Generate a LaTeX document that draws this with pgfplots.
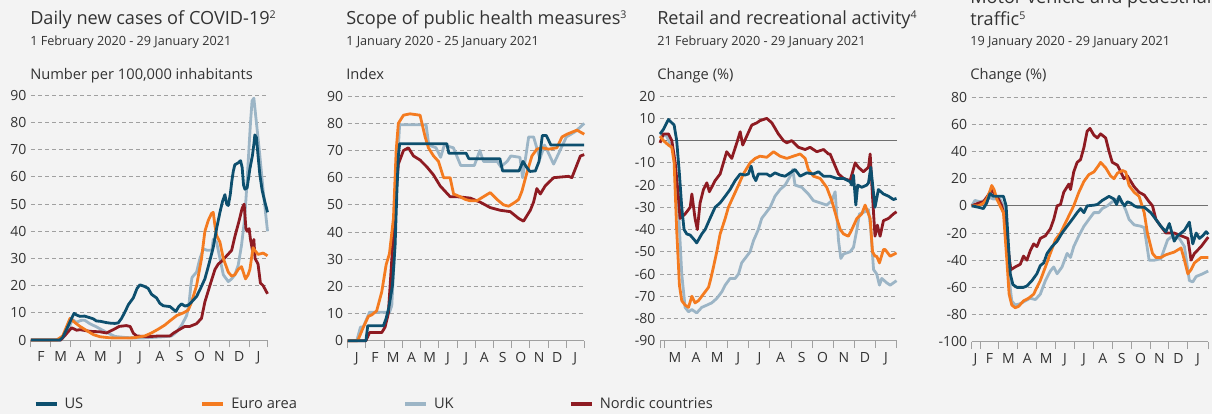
\documentclass[border=0pt]{standalone}
\usepackage{pgfplots}
\pgfplotsset{compat=1.18}
\usepackage{fontspec}
\setmainfont{Open Sans}
\definecolor{bg}{HTML}{F3F3F3}
\definecolor{us}{HTML}{0D4F6E}
\definecolor{ea}{HTML}{F47B20}
\definecolor{uk}{HTML}{9CB5C6}
\definecolor{nd}{HTML}{8E1B22}
\definecolor{gridc}{HTML}{A0A0A0}
\definecolor{axc}{HTML}{A0A0A0}
\definecolor{zeroc}{HTML}{707070}
\definecolor{txt}{HTML}{333333}
\newcommand{\titlefont}{\fontsize{13.6}{16}\selectfont}
\newcommand{\subfont}{\fontsize{9.5}{11}\selectfont}
\newcommand{\labfont}{\fontsize{11}{13}\selectfont}
\newcommand{\tickfont}{\fontsize{10.5}{12}\selectfont}
\newcommand{\sups}[1]{\raisebox{0.62ex}{\fontsize{8}{8}\selectfont #1}}
\pgfplotsset{
  panel/.style={
    scale only axis,
    width=177.4pt, height=183.4pt,
    axis x line*=bottom, axis y line*=left,
    y axis line style={draw=none},
    x axis line style={draw=axc, line width=0.75pt},
    ymajorgrids,
    major grid style={draw=gridc, line width=0.75pt, dash pattern=on 3pt off 2.25pt},
    ytick style={draw=none},
    major tick length=0pt,
    minor tick length=5.5pt,
    tick align=outside,
    minor tick style={draw=axc, line width=0.75pt},
    xticklabel style={font=\tickfont, text=txt, anchor=base, inner sep=0pt, yshift=-16.3pt},
    yticklabel style={font=\tickfont, text=txt, anchor=east, inner sep=0pt, xshift=-3.3pt},
    /pgf/number format/assume math mode=true,
    clip=false,
    every axis plot/.append style={line width=2.1pt, line join=round, mark=none},
  }
}
\begin{document}
\begin{tikzpicture}[x=0.75pt, y=0.75pt]
\fill[bg] (0,0) rectangle (1212,414);
\useasboundingbox (0,0) rectangle (1212,414);

% ---------- titles ----------
\node[anchor=base west, inner sep=0, font=\titlefont, text=txt] at (30,389) {Daily new cases of COVID-19\sups{2}};
\node[anchor=base west, inner sep=0, font=\subfont, text=txt] at (30,368) {1 February 2020 - 29 January 2021};
\node[anchor=base west, inner sep=0, font=\labfont, text=txt] at (30,334.5) {Number per 100,000 inhabitants};

\node[anchor=base west, inner sep=0, font=\titlefont, text=txt] at (346,389) {Scope of public health measures\sups{3}};
\node[anchor=base west, inner sep=0, font=\subfont, text=txt] at (346,368) {1 January 2020 - 25 January 2021};
\node[anchor=base west, inner sep=0, font=\labfont, text=txt] at (346,334.5) {Index};

\node[anchor=base west, inner sep=0, font=\titlefont, text=txt] at (657,389) {Retail and recreational activity\sups{4}};
\node[anchor=base west, inner sep=0, font=\subfont, text=txt] at (657,368) {21 February 2020 - 29 January 2021};
\node[anchor=base west, inner sep=0, font=\labfont, text=txt] at (657,334.5) {Change (\%)};

\node[anchor=base west, inner sep=0, font=\titlefont, text=txt] at (970,410.5) {Motor vehicle and pedestrian};
\node[anchor=base west, inner sep=0, font=\titlefont, text=txt] at (970,388) {traffic\sups{5}};
\node[anchor=base west, inner sep=0, font=\subfont, text=txt] at (970,368) {19 January 2020 - 29 January 2021};
\node[anchor=base west, inner sep=0, font=\labfont, text=txt] at (970,334.5) {Change (\%)};

% ---------- Panel 1 ----------
\begin{axis}[panel, at={(23.25pt,55.5pt)}, anchor=south west,
  xmin=1, xmax=12.93, ymin=0, ymax=90, ytick={0,10,...,90},
  xtick={1.5,2.5,3.5,4.5,5.5,6.5,7.5,8.5,9.5,10.5,11.5,12.47},
  xticklabels={F,M,A,M,J,J,A,S,O,N,D,J},
  minor xtick={1,2,3,4,5,6,7,8,9,10,11,12,12.93},
  legend columns=4,
  legend style={at={(0.012,-0.262)}, anchor=west, draw=none, fill=none,
    inner sep=0pt, outer sep=0pt, font=\labfont, text=txt,
    nodes={inner sep=0pt},
    /tikz/every odd column/.append style={column sep=4.5pt},
    /tikz/every even column/.append style={column sep=0pt}},
  legend image code/.code={\draw[#1, line width=2.8pt] (0pt,0pt) -- (15.75pt,0pt);},
]
\addplot[uk, forget plot] coordinates {(1,0) (2.5,0) (2.75,2) (3.0,6) (3.1,7.5) (3.3,6.5) (3.5,7.2) (3.7,7.3) (3.97,6) (4.31,4.8) (4.64,3.5) (4.98,2.2) (5.23,1.3) (5.8,0.9) (6.49,0.7) (7.0,0.9) (7.67,1.2) (8.09,1.5) (8.35,3) (8.6,5.5) (8.85,9) (8.98,14) (9.06,20) (9.12,23) (9.35,25) (9.52,30) (9.69,33.5) (9.9,33) (10.12,33) (10.19,37) (10.36,36) (10.53,30) (10.7,24) (10.95,21.5) (11.12,22.5) (11.28,24) (11.45,27.5) (11.62,35) (11.78,45) (11.87,55) (11.95,65) (12.07,80) (12.15,88) (12.24,89) (12.37,80) (12.54,68) (12.71,55) (12.93,40)};
\addplot[nd, forget plot] coordinates {(1,0) (2.5,0) (2.75,2) (3.05,4.5) (3.3,3.6) (3.47,3.8) (3.97,3.2) (4.48,3) (4.81,2.6) (5.15,3.8) (5.45,5) (5.8,5.3) (6.0,5) (6.16,2.5) (6.33,1.5) (6.84,1.2) (7.5,1.5) (8.01,1.5) (8.18,2.5) (8.52,4) (8.76,5) (9.01,5) (9.35,6) (9.6,8) (9.77,14) (10.02,20) (10.28,26) (10.45,28) (10.62,29) (10.87,31) (11.12,33) (11.28,38) (11.5,44) (11.65,48.5) (11.75,50) (11.84,41) (11.9,40) (12.0,41) (12.07,37) (12.17,33) (12.24,37) (12.3,30) (12.45,28) (12.57,21) (12.71,20) (12.93,17)};
\addplot[ea, forget plot] coordinates {(1,0) (2.3,0) (2.6,1.5) (2.8,5) (2.97,8) (3.2,6.5) (3.47,5) (3.8,3.5) (4.14,2) (4.48,1.2) (4.98,0.8) (5.57,0.7) (6.2,0.8) (6.74,1.5) (7.08,2.6) (7.42,4) (7.75,5.5) (8.0,7) (8.35,9) (8.69,10) (8.93,11) (9.1,14) (9.35,20) (9.6,30) (9.77,40) (9.94,44) (10.1,46.5) (10.19,47) (10.28,42) (10.36,38.5) (10.53,36) (10.7,30) (10.95,25) (11.12,23.5) (11.28,24) (11.45,26) (11.62,27) (11.75,24) (11.82,22.5) (11.95,24) (12.04,26) (12.12,30) (12.2,34) (12.29,33) (12.45,31.5) (12.71,32) (12.93,31)};
\addplot[us, forget plot] coordinates {(1,0) (2.46,0) (2.6,1) (2.8,4) (3.05,8) (3.17,9.8) (3.3,9.2) (3.47,8.7) (3.7,8.8) (3.97,8.2) (4.14,7.8) (4.3,7) (4.48,6.9) (4.81,6.4) (5.0,6.2) (5.23,6.1) (5.4,6.3) (5.57,8) (5.75,10.5) (5.91,13) (6.16,15.5) (6.35,19) (6.49,20.3) (6.7,19.8) (6.91,19) (7.08,16.8) (7.33,15.5) (7.5,13.5) (7.67,12.6) (8.01,12.3) (8.09,11.8) (8.31,10.5) (8.45,12.3) (8.59,13.3) (8.76,12.5) (8.93,12.8) (9.1,14) (9.35,16) (9.52,18.5) (9.77,22.5) (9.94,27) (10.19,34) (10.36,41) (10.53,47) (10.66,51) (10.78,53.5) (10.87,50) (10.95,49.5) (11.05,53.5) (11.12,58) (11.2,62) (11.28,64.5) (11.45,65.2) (11.57,66) (11.65,63.5) (11.72,57) (11.79,55.5) (11.9,56) (12.04,63) (12.17,68) (12.24,72) (12.29,75.5) (12.37,74.5) (12.45,68) (12.54,61) (12.66,55) (12.79,51) (12.93,47)};
\addlegendimage{us}\addlegendentry{\makebox[102pt][l]{US}}
\addlegendimage{ea}\addlegendentry{\makebox[129pt][l]{Euro area}}
\addlegendimage{uk}\addlegendentry{\makebox[101.25pt][l]{UK}}
\addlegendimage{nd}\addlegendentry{Nordic countries}
\end{axis}

% ---------- Panel 2 ----------
\begin{axis}[panel, at={(260.775pt,54.975pt)}, anchor=south west,
  xmin=0, xmax=12.98, ymin=0, ymax=90, ytick={0,10,...,90},
  xtick={0.5,1.5,2.5,3.5,4.5,5.5,6.5,7.5,8.5,9.5,10.5,11.5,12.49},
  xticklabels={J,F,M,A,M,J,J,A,S,O,N,D,J},
  minor xtick={0,1,2,3,4,5,6,7,8,9,10,11,12,12.98},
]
\addplot[uk] coordinates {(0,0) (0.5,0) (0.7,5) (0.85,5) (1.2,10.5) (2.3,10.5) (2.42,13) (2.55,30) (2.68,60) (2.85,79.5) (4.3,79.5) (4.45,72) (4.85,71) (5.1,67.5) (5.3,72) (5.8,71) (6.2,64.5) (6.95,64.5) (7.25,70) (7.45,66) (8.2,66) (8.4,64) (8.75,66) (8.95,68) (9.45,67.5) (9.6,60) (9.93,75) (10.2,75) (10.55,67) (10.8,72) (10.95,70) (11.3,65) (11.65,70) (12.0,75) (12.5,77) (12.98,80)};
\addplot[nd] coordinates {(0,0) (1.0,0) (1.2,3) (1.87,3) (2.05,5) (2.23,10) (2.42,30) (2.6,50) (2.78,65) (3.06,70) (3.33,71) (3.61,68) (3.97,66.5) (4.34,64) (4.71,61) (5.07,57) (5.62,53) (5.99,53) (6.72,52.5) (7.27,51) (7.82,49) (8.37,48) (8.92,47.5) (9.38,45) (9.65,44) (10.02,48) (10.2,51) (10.38,56) (10.57,54) (10.84,57) (11.3,60) (12.12,60.5) (12.3,60) (12.77,68) (12.98,68.5)};
\addplot[ea] coordinates {(0,0) (0.55,0) (0.86,5) (1.14,9) (1.32,9.5) (1.59,11) (1.87,18) (2.11,28) (2.29,32) (2.51,45) (2.66,70) (2.78,80) (3.06,83) (3.42,83.5) (3.97,83) (4.25,75) (4.43,71) (4.71,68) (4.98,66) (5.26,60) (5.62,60) (5.81,54) (6.17,53) (6.45,52) (6.72,51.5) (7.09,51.5) (7.45,53) (7.82,54.5) (8.19,52) (8.55,50) (8.83,49.5) (9.19,51) (9.38,52) (9.56,55) (9.84,62) (10.11,68) (10.38,70.5) (10.66,71) (11.03,70.5) (11.48,71) (11.76,75) (12.03,76) (12.58,77.5) (12.98,76)};
\addplot[us] coordinates {(0,0) (1.0,0) (1.1,5.5) (1.96,5.5) (2.1,8) (2.25,12) (2.45,20) (2.6,35) (2.7,55) (2.78,68) (2.85,72.5) (5.44,72.5) (5.55,69) (6.5,69) (6.65,67) (8.35,67) (8.5,62.5) (9.4,62.5) (9.62,66) (9.8,64) (10.0,62.3) (10.3,62.5) (10.5,66) (10.68,75.5) (10.9,75.5) (11.15,72) (12.98,72)};
\end{axis}

% ---------- Panel 3 ----------
\begin{axis}[panel, at={(495pt,54.975pt)}, anchor=south west,
  xmin=1.79, xmax=13, ymin=-90, ymax=20, ytick={-90,-80,...,20},
  xtick={2.5,3.5,4.5,5.5,6.5,7.5,8.5,9.5,10.5,11.5,12.5},
  xticklabels={M,A,M,J,J,A,S,O,N,D,J},
  minor xtick={1.79,2,3,4,5,6,7,8,9,10,11,12,13},
]
\addplot[zeroc, line width=0.9pt] coordinates {(1.79,0) (13,0)};
\addplot[uk] coordinates {(1.79,3) (2.11,2) (2.43,-5) (2.66,-30) (2.82,-60) (2.98,-75) (3.14,-77) (3.30,-76) (3.53,-77.5) (3.77,-75) (4.01,-74) (4.24,-73) (4.48,-71) (4.72,-68) (4.88,-65) (5.11,-62) (5.35,-62) (5.51,-60) (5.66,-55) (5.90,-52) (6.06,-50) (6.22,-45) (6.45,-40) (6.61,-35) (6.85,-32) (7.01,-30) (7.24,-25) (7.48,-22) (7.72,-20) (7.96,-16) (8.08,-13) (8.19,-20) (8.51,-21) (8.82,-24) (9.06,-27) (9.38,-28) (9.69,-29) (9.93,-27) (10.09,-23) (10.25,-45) (10.36,-53) (10.49,-51) (10.80,-50) (10.96,-48) (11.12,-40) (11.24,-33) (11.51,-32) (11.67,-31) (11.78,-40) (11.91,-58) (12.06,-60) (12.19,-65) (12.30,-62) (12.54,-64) (12.70,-65) (13.0,-63)};
\addplot[nd] coordinates {(1.79,-1) (1.95,3) (2.19,3) (2.35,0) (2.51,-10) (2.66,-25) (2.74,-35) (2.98,-33) (3.22,-30) (3.30,-24) (3.45,-35) (3.56,-40) (3.69,-28) (3.85,-22) (4.01,-19) (4.13,-23) (4.40,-18) (4.64,-15) (4.95,-5) (5.19,-8) (5.43,-1) (5.59,4) (5.71,-2) (5.90,2) (6.14,7) (6.38,8) (6.53,9) (6.85,10) (7.09,8) (7.40,3) (7.64,0) (7.80,-1) (8.03,0) (8.35,-3) (8.67,-4) (8.90,-3) (9.22,-5) (9.54,-4) (9.77,-6) (9.85,-6) (10.25,-15) (10.49,-17) (10.80,-18) (11.04,-10) (11.19,-12) (11.43,-14) (11.67,-12) (11.75,-6) (11.86,-25) (11.98,-43) (12.09,-38) (12.22,-43) (12.38,-36) (12.62,-35) (12.85,-33) (13.0,-32)};
\addplot[ea] coordinates {(1.79,2) (1.95,0) (2.19,-2) (2.35,-3) (2.46,-10) (2.58,-40) (2.71,-65) (2.82,-72) (2.98,-74) (3.14,-75) (3.30,-70) (3.45,-73) (3.61,-72) (3.77,-70) (3.93,-68) (4.09,-66) (4.20,-62) (4.32,-57) (4.48,-50) (4.64,-42) (4.88,-35) (5.03,-30) (5.27,-25) (5.51,-20) (5.74,-15) (6.06,-10) (6.30,-8) (6.53,-7) (6.85,-7.5) (7.17,-5) (7.48,-7) (7.80,-8) (8.11,-7) (8.43,-6) (8.67,-8) (8.82,-13) (9.06,-16) (9.38,-17) (9.69,-21) (9.93,-27) (10.17,-35) (10.33,-40) (10.49,-42) (10.72,-43) (10.88,-40) (11.12,-35) (11.35,-33) (11.51,-29) (11.67,-33) (11.75,-35) (11.86,-50) (11.98,-52) (12.06,-52) (12.19,-55) (12.38,-49) (12.46,-49) (12.70,-52) (13.0,-50.5)};
\addplot[us] coordinates {(1.79,3) (1.95,5) (2.19,9.5) (2.35,8) (2.46,7) (2.58,0) (2.71,-15) (2.82,-30) (2.93,-40) (3.06,-42) (3.22,-42.5) (3.45,-45) (3.53,-46) (3.77,-42) (3.93,-40) (4.16,-35) (4.40,-30) (4.64,-28) (4.88,-25) (5.11,-22) (5.35,-18) (5.59,-15) (5.82,-15.5) (5.98,-15) (6.11,-11.5) (6.22,-16) (6.33,-18) (6.45,-15) (6.85,-15) (7.01,-16) (7.24,-14.5) (7.48,-15.5) (7.72,-16) (8.19,-13) (8.43,-16) (8.75,-14.5) (9.06,-15) (9.30,-14) (9.54,-16) (9.85,-16) (10.17,-17) (10.49,-17) (10.80,-18.5) (10.88,-20) (10.96,-15.5) (11.07,-29) (11.16,-20) (11.35,-21) (11.59,-20) (11.67,-19) (11.78,-12) (11.98,-30) (12.14,-22) (12.38,-24) (12.62,-25) (12.85,-26.5) (13.0,-26)};
\end{axis}

% ---------- Panel 4 ----------
\begin{axis}[panel, at={(728.775pt,54.225pt)}, anchor=south west,
  xmin=0.56, xmax=13.08, ymin=-100, ymax=80, ytick={-100,-80,...,80},
  xtick={0.76,1.5,2.5,3.5,4.5,5.5,6.5,7.5,8.5,9.5,10.5,11.5,12.54},
  xticklabels={J,F,M,A,M,J,J,A,S,O,N,D,J},
  minor xtick={0.56,1,2,3,4,5,6,7,8,9,10,11,12,13.08},
]
\addplot[zeroc, line width=0.9pt] coordinates {(0.56,0) (13.08,0)};
\addplot[uk] coordinates {(0.56,0) (0.73,4) (1.0,3) (1.27,4) (1.53,6) (1.71,5) (2.06,5) (2.24,0) (2.38,-20) (2.51,-50) (2.68,-70) (2.86,-73) (3.13,-72) (3.39,-70) (3.66,-68) (3.93,-69) (4.19,-65) (4.46,-55) (4.72,-48) (4.90,-45) (5.08,-50) (5.34,-45) (5.61,-35) (5.79,-38) (5.96,-30) (6.23,-22) (6.50,-15) (6.76,-10) (7.03,-5) (7.29,-5) (7.47,-2) (7.74,0) (8.00,3) (8.27,5) (8.54,2) (8.71,-3) (8.89,-10) (9.16,-14) (9.51,-15) (9.69,-16) (9.95,-40) (10.22,-40) (10.57,-39) (10.93,-25) (11.20,-22) (11.55,-24) (11.82,-30) (12.08,-55) (12.26,-56) (12.44,-52) (12.79,-50) (13.08,-48)};
\addplot[nd] coordinates {(0.56,0) (0.91,2) (1.18,3) (1.44,8) (1.62,12) (1.80,8) (1.98,5) (2.15,0) (2.33,-10) (2.47,-30) (2.63,-47) (2.86,-45) (3.13,-43) (3.30,-37) (3.48,-40) (3.66,-33) (3.84,-28) (4.01,-30) (4.19,-24) (4.46,-22) (4.72,-17) (4.90,-10) (5.08,0) (5.26,1) (5.43,10) (5.70,16) (5.79,12) (5.96,25) (6.14,32) (6.32,34) (6.50,43) (6.67,55) (6.82,57) (7.03,52) (7.21,50) (7.38,53) (7.65,50) (7.83,40) (8.00,32) (8.27,30) (8.45,25) (8.62,20) (8.80,22) (8.98,18) (9.16,14) (9.42,10) (9.69,8) (9.95,3) (10.13,0) (10.31,-10) (10.57,-15) (10.84,-20) (11.28,-20) (11.64,-22) (12.0,-24) (12.17,-40) (12.35,-35) (12.70,-30) (12.97,-25) (13.08,-23)};
\addplot[ea] coordinates {(0.56,0) (0.91,0) (1.18,2) (1.35,5) (1.50,10) (1.62,15) (1.74,12) (1.89,5) (2.06,0) (2.24,-5) (2.42,-40) (2.54,-65) (2.68,-73) (2.86,-75) (3.04,-74) (3.30,-70) (3.57,-68) (3.84,-65) (4.01,-60) (4.19,-55) (4.46,-45) (4.72,-35) (4.99,-25) (5.26,-20) (5.61,-10) (5.96,0) (6.23,10) (6.50,18) (6.76,23) (7.03,25) (7.29,30) (7.38,32) (7.65,28) (7.91,22) (8.09,20) (8.27,24) (8.54,26) (8.71,25) (8.89,15) (9.16,10) (9.42,7) (9.69,-5) (9.86,-20) (10.13,-35) (10.31,-38) (10.57,-38) (10.84,-36) (11.28,-34) (11.64,-31) (11.82,-40) (12.0,-50) (12.17,-47) (12.35,-42) (12.70,-38) (13.08,-38)};
\addplot[us] coordinates {(0.56,0) (0.91,-1) (1.18,-2) (1.35,2) (1.53,9) (1.71,7) (1.98,7) (2.24,7) (2.38,0) (2.51,-30) (2.60,-50) (2.74,-58) (2.95,-60) (3.30,-60) (3.48,-59) (3.75,-55) (4.01,-50) (4.19,-44) (4.37,-42) (4.55,-35) (4.81,-30) (5.08,-26) (5.34,-20) (5.61,-15) (5.88,-10) (6.14,-5) (6.32,-2) (6.50,-5) (6.67,0) (7.03,0.5) (7.21,1) (7.47,4) (7.83,7) (8.09,5) (8.23,1) (8.36,7) (8.54,2) (8.66,0) (8.80,3) (8.98,2) (9.16,0) (9.33,-1) (9.69,-1) (10.04,-5) (10.31,-10) (10.57,-15) (10.84,-19) (11.02,-13) (11.28,-26) (11.46,-22) (11.64,-20) (11.82,-18) (12.08,-12) (12.26,-28) (12.44,-20) (12.61,-24) (12.79,-22) (12.97,-19) (13.08,-21)};
\end{axis}
\end{tikzpicture}
\end{document}
